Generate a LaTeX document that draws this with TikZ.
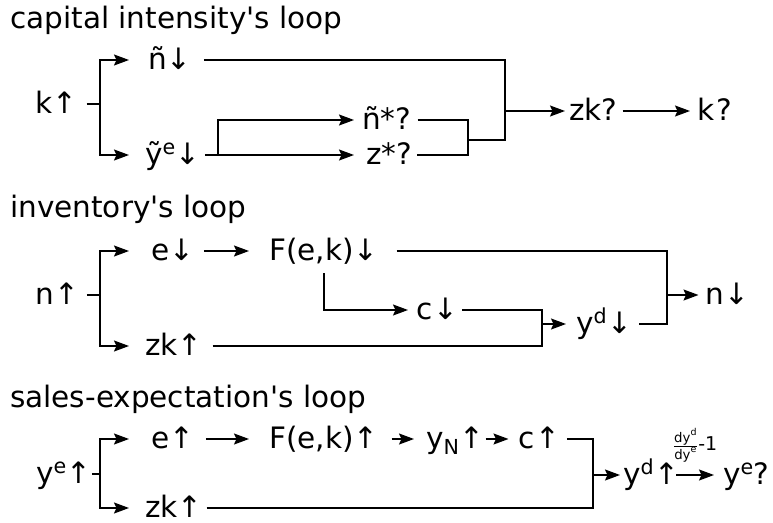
\documentclass[tikz,border=0pt]{standalone}
\usepackage{fontspec}
\setmainfont{DejaVu Sans}
\usepackage{amsmath}
\usetikzlibrary{arrows.meta}
\begin{document}
\begin{tikzpicture}[x=1pt,y=-1pt,
  lbl/.style={inner sep=0pt,anchor=west,font=\fontsize{29.5}{31}\selectfont,text height=21pt,text depth=3pt},
  ttl/.style={inner sep=0pt,anchor=base west,font=\fontsize{29.5}{31}\selectfont},
  ln/.style={line width=1.6pt},
  arr/.style={ln,-{Stealth[length=15pt,width=11pt,inset=2.5pt]}},
]
\useasboundingbox (0,0) rectangle (773,522);

% ---------- capital intensity's loop ----------
\node[ttl] (t1) at (10,28) {capital intensity\textquotesingle s loop};
\node[lbl] (k1) at (35.5,104) {k↑};
\node[lbl] (nt) at (148,60) {ñ↓};
\node[lbl] (yt) at (145,155) {ỹ\textsuperscript{e}↓};
\node[lbl] (ns) at (362,120) {ñ*?};
\node[lbl] (zs) at (366,155) {z*?};
\node[lbl] (zk) at (569,111) {zk?};
\node[lbl] (kq) at (697,111) {k\kern2pt?};
\coordinate (a1) at (100,104);
\coordinate (a2) at (218,155);
\coordinate (a3) at (468,140);
\coordinate (a4) at (505,111);
\draw[ln] ([xshift=9pt]k1.east) -- (a1);
\draw[arr] (a1) |- ([xshift=-19pt]nt.west);
\draw[arr] (a1) |- ([xshift=-16pt]yt.west);
\draw[arr] ([xshift=4pt]yt.east) -- ([xshift=-12pt]zs.west);
\draw[arr] (a2) |- ([xshift=-8pt]ns.west);
\draw[ln] ([xshift=6pt]ns.east) -| (a3);
\draw[ln] ([xshift=5pt]zs.east) -| (a3);
\draw[ln] (a3) -| (a4);
\draw[ln] ([xshift=12pt]nt.east) -| (a4);
\draw[arr] (a4) -- ([xshift=-4pt]zk.west);
\draw[arr] ([xshift=5pt]zk.east) -- ([xshift=-7pt]kq.west);

% ---------- inventory's loop ----------
\node[ttl] (t2) at (10,217) {inventory\textquotesingle s loop};
\node[lbl] (n1) at (35.5,295) {n↑};
\node[lbl] (e2) at (151.5,251) {e↓};
\node[lbl] (zk2) at (145,346) {zk↑};
\node[lbl] (F2) at (269,251) {F(e,k)↓};
\node[lbl] (c2) at (416,310) {c\kern1pt↓};
\node[lbl] (yd2) at (576,324) {y\textsuperscript{d}↓};
\node[lbl] (n2) at (705.5,295) {n↓};
\coordinate (b1) at (100,295);
\coordinate (b2) at (542,324);
\coordinate (b3) at (667,295);
\draw[ln] ([xshift=7.5pt]n1.east) -- (b1);
\draw[arr] (b1) |- ([xshift=-22.5pt]e2.west);
\draw[arr] (b1) |- ([xshift=-16pt]zk2.west);
\draw[arr] ([xshift=9pt]e2.east) -- ([xshift=-20pt]F2.west);
\draw[arr] ([yshift=-10pt]F2.south) |- ([xshift=-8pt]c2.west);
\draw[ln] ([xshift=4pt]c2.east) -| (b2);
\draw[ln] ([xshift=10pt]zk2.east) -| (b2);
\draw[arr] (b2) -- ([xshift=-10pt]yd2.west);
\draw[ln] ([xshift=18pt]F2.east) -| (b3);
\draw[ln] ([xshift=7pt]yd2.east) -| (b3);
\draw[arr] (b3) -- ([xshift=-7pt]n2.west);

% ---------- sales-expectation's loop ----------
\node[ttl] (t3) at (10,407) {sales-expectation\textquotesingle s loop};
\node[lbl] (ye3) at (36,474) {y\textsuperscript{e}↑};
\node[lbl] (e3) at (151.5,439) {e↑};
\node[lbl] (zk3) at (145,508) {zk↑};
\node[lbl] (F3) at (269,439) {F(e,k)↑};
\node[lbl] (yN) at (426,439) {y\textsubscript{N}↑};
\node[lbl] (c3) at (518.5,439) {c\kern1pt↑};
\node[lbl] (yd3) at (623,475) {y\textsuperscript{d}↑};
\node[lbl] (ye4) at (723,475) {y\textsuperscript{e}?};
\coordinate (d1) at (100,474);
\coordinate (d2) at (593,475);
\draw[ln] (ye3.east) -- (d1);
\draw[arr] (d1) |- ([xshift=-22.5pt]e3.west);
\draw[arr] (d1) |- ([xshift=-16pt]zk3.west);
\draw[arr] ([xshift=11pt]e3.east) -- ([xshift=-20pt]F3.west);
\draw[arr] ([xshift=13pt]F3.east) -- ([xshift=-12pt]yN.west);
\draw[arr] ([xshift=1pt]yN.east) -- ([xshift=-10pt]c3.west);
\draw[ln] ([xshift=6pt]c3.east) -| (d2);
\draw[ln] ([xshift=4pt]zk3.east) -| (d2);
\draw[arr] (d2) -- ([xshift=-3pt]yd3.west);
\draw[arr] ([xshift=-3pt]yd3.east) -- node[midway,above=12pt,inner sep=0pt,font=\fontsize{19}{19}\selectfont]
  (lab) {$\frac{\text{dy}^{\text{d}}}{\text{dy}^{\text{e}}}$-1} ([xshift=-9pt]ye4.west);
\end{tikzpicture}
\end{document}
